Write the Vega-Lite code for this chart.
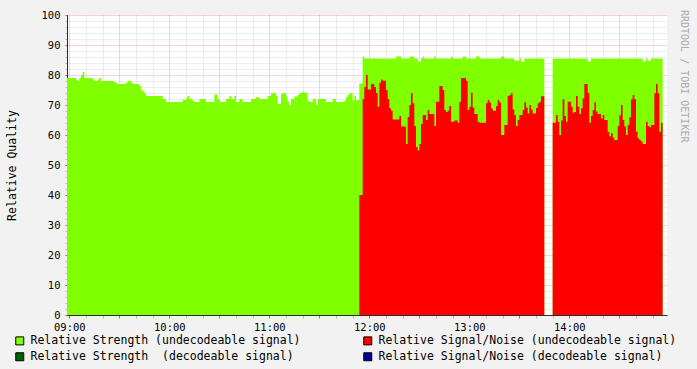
{
  "$schema": "https://vega.github.io/schema/vega-lite/v6.json",
  "width": 600,
  "height": 300,
  "autosize": {"type": "none"},
  "padding": {"left": 67, "top": 15, "right": 30, "bottom": 54},
  "background": "#F2F2F2",
  "title": {"text": "RRDTOOL / TOBI OETIKER", "orient": "right", "anchor": "start", "font": "DejaVu Sans Mono", "fontSize": 10, "fontWeight": "normal", "color": "#ABABAB", "offset": -8, "dy": -10},
  "config": {
    "view": {"stroke": null, "fill": "white"},
    "axis": {"labelOverlap": false, "labelFlush": false, "labelBound": false, "gridDash": [1, 1], "gridOpacity": 0.5, "zindex": 1, "domainColor": "#2C2C2C", "labelFont": "DejaVu Sans Mono", "labelFontSize": 10.5, "labelColor": "#000000"}
  },
  "data": {"values": [
    {"m":-2,"s":79},{"m":-1,"s":79},{"m":0,"s":79},{"m":1,"s":79},{"m":2,"s":79},{"m":3,"s":79},{"m":4,"s":78.5},{"m":5,"s":78},{"m":6,"s":79},{"m":7,"s":80},
    {"m":8,"s":81},{"m":9,"s":79},{"m":10,"s":79},{"m":11,"s":79},{"m":12,"s":79},{"m":13,"s":79},{"m":14,"s":78.5},{"m":15,"s":78},{"m":16,"s":78},{"m":17,"s":78.5},
    {"m":18,"s":79},{"m":19,"s":78},{"m":20,"s":78},{"m":21,"s":78},{"m":22,"s":78},{"m":23,"s":78},{"m":24,"s":78},{"m":25,"s":78},{"m":26,"s":78},{"m":27,"s":77.5},
    {"m":28,"s":77.5},{"m":29,"s":77},{"m":30,"s":77},{"m":31,"s":77},{"m":32,"s":77},{"m":33,"s":77},{"m":34,"s":77.5},{"m":35,"s":78},{"m":36,"s":78},{"m":37,"s":77.5},
    {"m":38,"s":77},{"m":39,"s":77},{"m":40,"s":77},{"m":41,"s":77},{"m":42,"s":76.3},{"m":43,"s":75},{"m":44,"s":74.6},{"m":45,"s":74},{"m":46,"s":73},{"m":47,"s":73},
    {"m":48,"s":73},{"m":49,"s":73},{"m":50,"s":73},{"m":51,"s":73},{"m":52,"s":73},{"m":53,"s":73},{"m":54,"s":73},{"m":55,"s":73},{"m":56,"s":72},{"m":57,"s":72},
    {"m":58,"s":71},{"m":59,"s":71},{"m":60,"s":71},{"m":61,"s":71},{"m":62,"s":71},{"m":63,"s":71},{"m":64,"s":71},{"m":65,"s":71},{"m":66,"s":71},{"m":67,"s":71},
    {"m":68,"s":71.7},{"m":69,"s":71.7},{"m":70,"s":72.3},{"m":71,"s":73},{"m":72,"s":72},{"m":73,"s":72},{"m":74,"s":71.3},{"m":75,"s":71},{"m":76,"s":71},{"m":77,"s":71},
    {"m":78,"s":72},{"m":79,"s":72},{"m":80,"s":72},{"m":81,"s":72},{"m":82,"s":71},{"m":83,"s":71},{"m":84,"s":71},{"m":85,"s":71},{"m":86,"s":71},{"m":87,"s":73.5},
    {"m":88,"s":73.5},{"m":89,"s":72},{"m":90,"s":71.2},{"m":91,"s":71},{"m":92,"s":71},{"m":93,"s":71},{"m":94,"s":72},{"m":95,"s":72},{"m":96,"s":73},{"m":97,"s":72},
    {"m":98,"s":72},{"m":99,"s":73},{"m":100,"s":71},{"m":101,"s":71},{"m":102,"s":72},{"m":103,"s":72},{"m":104,"s":71},{"m":105,"s":71},{"m":106,"s":71},{"m":107,"s":71},
    {"m":108,"s":71},{"m":109,"s":72},{"m":110,"s":72},{"m":111,"s":72},{"m":112,"s":72.6},{"m":113,"s":72.6},{"m":114,"s":72},{"m":115,"s":72},{"m":116,"s":72},{"m":117,"s":72},
    {"m":118,"s":72},{"m":119,"s":73},{"m":120,"s":73},{"m":121,"s":74},{"m":122,"s":74},{"m":123,"s":74},{"m":124,"s":73},{"m":125,"s":70.3},{"m":126,"s":70.3},{"m":127,"s":73.7},
    {"m":128,"s":74},{"m":129,"s":74},{"m":130,"s":72.8},{"m":131,"s":71.2},{"m":132,"s":70},{"m":133,"s":72},{"m":134,"s":72},{"m":135,"s":72.8},{"m":136,"s":72.8},{"m":137,"s":73.3},
    {"m":138,"s":74},{"m":139,"s":74},{"m":140,"s":74.4},{"m":141,"s":74.1},{"m":142,"s":74.1},{"m":143,"s":71.4},{"m":144,"s":71},{"m":145,"s":71},{"m":146,"s":72},{"m":147,"s":72},
    {"m":148,"s":70},{"m":149,"s":72},{"m":150,"s":72},{"m":151,"s":72},{"m":152,"s":72},{"m":153,"s":72},{"m":154,"s":71},{"m":155,"s":71},{"m":156,"s":71},{"m":157,"s":71},
    {"m":158,"s":72},{"m":159,"s":72},{"m":160,"s":71},{"m":161,"s":71},{"m":162,"s":71},{"m":163,"s":71},{"m":164,"s":71},{"m":165,"s":71.4},{"m":166,"s":72.6},{"m":167,"s":73.3},
    {"m":168,"s":73.9},{"m":169,"s":73.9},{"m":170,"s":71.4},{"m":171,"s":73},{"m":172,"s":71.7},{"m":173,"s":71.7},
    {"m":174,"s":77.2,"n":40},{"m":175,"s":77.2,"n":40},{"m":176,"s":86.2,"n":72},{"m":177,"s":85.5,"n":76},{"m":178,"s":85.5,"n":80},{"m":179,"s":85.5,"n":75.2},
    {"m":180,"s":85.5,"n":75.2},{"m":181,"s":85.5,"n":77},{"m":182,"s":85.5,"n":77},{"m":183,"s":85.5,"n":76},{"m":184,"s":85.5,"n":74},{"m":185,"s":85.5,"n":69.4},
    {"m":186,"s":85.5,"n":77.4},{"m":187,"s":85.5,"n":78.5},{"m":188,"s":85.5,"n":78.1},{"m":189,"s":85.5,"n":78.1},{"m":190,"s":85.5,"n":75},{"m":191,"s":85.5,"n":72},
    {"m":192,"s":85.5,"n":68.9},{"m":193,"s":85.5,"n":68.1},{"m":194,"s":85.5,"n":65.2},{"m":195,"s":85.5,"n":65.2},{"m":196,"s":86.2,"n":65.2},{"m":197,"s":86.2,"n":65.2},
    {"m":198,"s":86.2,"n":66.3},{"m":199,"s":85.5,"n":62.8},{"m":200,"s":85.5,"n":62.8},{"m":201,"s":85.5,"n":62.8},{"m":202,"s":85.5,"n":57},{"m":203,"s":85.5,"n":66},
    {"m":204,"s":86.2,"n":70},{"m":205,"s":86.2,"n":74},{"m":206,"s":86.2,"n":70.6},{"m":207,"s":85.5,"n":63},{"m":208,"s":85.5,"n":56},{"m":209,"s":84.5,"n":54.8},
    {"m":210,"s":84.5,"n":57},{"m":211,"s":85.5,"n":63.7},{"m":212,"s":86.2,"n":66.7},{"m":213,"s":85.5,"n":66.7},{"m":214,"s":85.5,"n":65},{"m":215,"s":85.5,"n":68.3},
    {"m":216,"s":85.5,"n":67},{"m":217,"s":85.5,"n":67},{"m":218,"s":85.5,"n":67},{"m":219,"s":86.2,"n":63},{"m":220,"s":85.5,"n":71.1},{"m":221,"s":85.5,"n":71.1},
    {"m":222,"s":85.5,"n":76.3},{"m":223,"s":85.5,"n":76.3},{"m":224,"s":85.5,"n":75},{"m":225,"s":85.5,"n":68.3},{"m":226,"s":85.5,"n":67.7},{"m":227,"s":85.5,"n":68.1},
    {"m":228,"s":85.5,"n":69.7},{"m":229,"s":86.2,"n":64.4},{"m":230,"s":85.5,"n":64.4},{"m":231,"s":85.5,"n":64.8},{"m":232,"s":85.5,"n":64.8},{"m":233,"s":85.5,"n":64.1},
    {"m":234,"s":85.5,"n":71},{"m":235,"s":85.5,"n":79},{"m":236,"s":86.2,"n":79},{"m":237,"s":86.2,"n":79},{"m":238,"s":85.5,"n":78.1},{"m":239,"s":85.5,"n":68.3},
    {"m":240,"s":85.5,"n":69.4},{"m":241,"s":85.5,"n":74.1},{"m":242,"s":85.5,"n":69.2},{"m":243,"s":85.5,"n":67},{"m":244,"s":86.2,"n":67},{"m":245,"s":86.2,"n":64.4},
    {"m":246,"s":85.5,"n":64.1},{"m":247,"s":85.5,"n":64.1},{"m":248,"s":85.5,"n":64.1},{"m":249,"s":85.5,"n":64.1},{"m":250,"s":85.5,"n":70.6},{"m":251,"s":85.5,"n":71.7},
    {"m":252,"s":85.5,"n":70.8},{"m":253,"s":85.5,"n":68.9},{"m":254,"s":85.5,"n":68.1},{"m":255,"s":85.5,"n":68.1},{"m":256,"s":85.5,"n":69.7},{"m":257,"s":85.5,"n":71.7},
    {"m":258,"s":85.5,"n":70.8},{"m":259,"s":86.2,"n":60},{"m":260,"s":86.2,"n":60},{"m":261,"s":85.5,"n":63.3},{"m":262,"s":85.5,"n":63.3},{"m":263,"s":85.5,"n":73},
    {"m":264,"s":85.5,"n":73.3},{"m":265,"s":85.5,"n":73.9},{"m":266,"s":85.5,"n":68.5},{"m":267,"s":84.8,"n":66.7},{"m":268,"s":84.8,"n":63},{"m":269,"s":84.8,"n":65},
    {"m":270,"s":85.5,"n":66.7},{"m":271,"s":84.3,"n":66.7},{"m":272,"s":84.3,"n":68.3},{"m":273,"s":85.5,"n":70.9},{"m":274,"s":85.5,"n":69.2},{"m":275,"s":85.5,"n":67.2},
    {"m":276,"s":85.5,"n":70},{"m":277,"s":85.5,"n":68.5},{"m":278,"s":85.5,"n":67.2},{"m":279,"s":85.5,"n":67.2},{"m":280,"s":85.5,"n":69},{"m":281,"s":85.5,"n":70.6},
    {"m":282,"s":85.5,"n":71.1},{"m":283,"s":85.5,"n":72.9},{"m":284,"s":85.5,"n":72.9},{"m":285,"s":85.5,"n":72.9},
    {"m":286,"s":null,"n":null},{"m":287,"s":null,"n":null},{"m":288,"s":null,"n":null},{"m":289,"s":null,"n":null},
    {"m":290,"s":85.5,"n":64.1},{"m":291,"s":85.5,"n":64.1},{"m":292,"s":85.5,"n":66.7},{"m":293,"s":85.5,"n":64.4},{"m":294,"s":85.5,"n":60},{"m":295,"s":85.5,"n":64.8},
    {"m":296,"s":85.5,"n":71.9},{"m":297,"s":85.5,"n":66.3},{"m":298,"s":85.5,"n":64.4},{"m":299,"s":85.5,"n":71.1},{"m":300,"s":85.5,"n":71.1},{"m":301,"s":85.5,"n":69.4},
    {"m":302,"s":85.5,"n":67.4},{"m":303,"s":85.5,"n":67.7},{"m":304,"s":85.5,"n":73},{"m":305,"s":85.5,"n":69.4},{"m":306,"s":85.5,"n":67},{"m":307,"s":85.5,"n":68.9},
    {"m":308,"s":85.5,"n":72.2},{"m":309,"s":85.5,"n":77},{"m":310,"s":85.5,"n":77},{"m":311,"s":84.5,"n":74.1},{"m":312,"s":84.5,"n":64.1},{"m":313,"s":85.5,"n":66.3},
    {"m":314,"s":85.5,"n":68.3},{"m":315,"s":85.5,"n":70.9},{"m":316,"s":85.5,"n":67.8},{"m":317,"s":85.5,"n":67},{"m":318,"s":85.5,"n":67},{"m":319,"s":85.5,"n":65.5},
    {"m":320,"s":85.5,"n":66.7},{"m":321,"s":85.5,"n":65},{"m":322,"s":85.5,"n":65},{"m":323,"s":85.5,"n":61.1},{"m":324,"s":85.5,"n":59.6},{"m":325,"s":85.5,"n":60.7},
    {"m":326,"s":85.5,"n":59.2},{"m":327,"s":85.5,"n":58.3},{"m":328,"s":85.5,"n":58.3},{"m":329,"s":85.5,"n":63},{"m":330,"s":85.5,"n":66.6},{"m":331,"s":85.5,"n":70},
    {"m":332,"s":85.5,"n":65},{"m":333,"s":85.5,"n":62.8},{"m":334,"s":85.5,"n":60},{"m":335,"s":85.5,"n":63.3},{"m":336,"s":85.5,"n":65.9},{"m":337,"s":85.5,"n":71.9},
    {"m":338,"s":85.5,"n":73.3},{"m":339,"s":85.5,"n":71.9},{"m":340,"s":85.5,"n":61.1},{"m":341,"s":85.5,"n":58.9},{"m":342,"s":85.5,"n":58.3},{"m":343,"s":85.5,"n":57.8},
    {"m":344,"s":84.5,"n":57},{"m":345,"s":84.5,"n":57},{"m":346,"s":85.5,"n":64.4},{"m":347,"s":84.8,"n":63},{"m":348,"s":84.8,"n":62.6},{"m":349,"s":85.5,"n":63.3},
    {"m":350,"s":85.5,"n":63.3},{"m":351,"s":85.5,"n":73.9},{"m":352,"s":85.5,"n":77},{"m":353,"s":85.5,"n":73.9},{"m":354,"s":85.5,"n":61.1},{"m":355,"s":85.5,"n":64.1},
    {"m":356,"s":85.5,"n":64.1}
  ]},
  "encoding": {
    "x": {
      "field": "m", "type": "quantitative",
      "scale": {"domain": [-1.4, 358.6], "nice": false, "zero": false},
      "axis": {
        "title": null,
        "values": [0,10,20,30,40,50,60,70,80,90,100,110,120,130,140,150,160,170,180,190,200,210,220,230,240,250,260,270,280,290,300,310,320,330,340,350],
        "labelExpr": "datum.value % 60 === 0 ? (datum.value < 60 ? '09:00' : (9 + datum.value / 60) + ':00') : ''",
        "labelPadding": 4,
        "grid": true,
        "gridColor": {"condition": {"test": "datum.value % 30 === 0", "value": "#E05050"}, "value": "#BABABA"},
        "tickColor": {"condition": {"test": "datum.value % 30 === 0", "value": "#E05050"}, "value": "#BABABA"},
        "tickSize": 3
      }
    }
  },
  "layer": [
    {
      "mark": {"type": "area", "interpolate": "step-after", "clip": true, "opacity": 1},
      "encoding": {
        "y": {
          "field": "s", "type": "quantitative",
          "scale": {"domain": [0, 100], "nice": false},
          "axis": {
            "title": "Relative Quality", "titleFont": "DejaVu Sans Mono", "titleFontSize": 11.5, "titleFontWeight": "normal", "titleColor": "#000000", "titlePadding": 24,
            "values": [0,2,4,6,8,10,12,14,16,18,20,22,24,26,28,30,32,34,36,38,40,42,44,46,48,50,52,54,56,58,60,62,64,66,68,70,72,74,76,78,80,82,84,86,88,90,92,94,96,98,100],
            "labelExpr": "datum.value % 10 === 0 ? datum.label : ''",
            "labelPadding": 5,
            "grid": true,
            "gridColor": {"condition": {"test": "datum.value % 10 === 0", "value": "#E05050"}, "value": "#BABABA"},
            "tickColor": {"condition": {"test": "datum.value % 10 === 0", "value": "#E05050"}, "value": "#BABABA"},
            "tickSize": 2
          }
        },
        "color": {
          "datum": "Relative Strength (undecodeable signal)", "type": "nominal",
          "scale": {
            "domain": ["Relative Strength (undecodeable signal)", "Relative Signal/Noise (undecodeable signal)", "Relative Strength\u00a0 (decodeable signal)", "Relative Signal/Noise (decodeable signal)"],
            "range": ["#80FF00", "#FF0000", "#006400", "#000099"]
          },
          "legend": {
            "title": null, "orient": "none", "legendX": -53, "legendY": 320, "direction": "horizontal", "columns": 2,
            "columnPadding": 60, "rowPadding": 3, "symbolType": "square", "symbolSize": 64,
            "symbolStrokeColor": "#000000", "symbolStrokeWidth": 1, "symbolOpacity": 1,
            "labelFont": "DejaVu Sans Mono", "labelFontSize": 11.5, "labelColor": "#000000", "labelOffset": 5, "labelLimit": 0
          }
        }
      }
    },
    {
      "mark": {"type": "area", "interpolate": "step-after", "clip": true, "opacity": 1},
      "encoding": {
        "y": {
          "field": "n", "type": "quantitative",
          "scale": {"domain": [0, 100], "nice": false},
          "axis": {
            "title": "Relative Quality", "titleFont": "DejaVu Sans Mono", "titleFontSize": 11.5, "titleFontWeight": "normal", "titleColor": "#000000", "titlePadding": 24,
            "values": [0,2,4,6,8,10,12,14,16,18,20,22,24,26,28,30,32,34,36,38,40,42,44,46,48,50,52,54,56,58,60,62,64,66,68,70,72,74,76,78,80,82,84,86,88,90,92,94,96,98,100],
            "labelExpr": "datum.value % 10 === 0 ? datum.label : ''",
            "labelPadding": 5,
            "grid": true,
            "gridColor": {"condition": {"test": "datum.value % 10 === 0", "value": "#E05050"}, "value": "#BABABA"},
            "tickColor": {"condition": {"test": "datum.value % 10 === 0", "value": "#E05050"}, "value": "#BABABA"},
            "tickSize": 2
          }
        },
        "color": {
          "datum": "Relative Signal/Noise (undecodeable signal)", "type": "nominal",
          "scale": {
            "domain": ["Relative Strength (undecodeable signal)", "Relative Signal/Noise (undecodeable signal)", "Relative Strength\u00a0 (decodeable signal)", "Relative Signal/Noise (decodeable signal)"],
            "range": ["#80FF00", "#FF0000", "#006400", "#000099"]
          }
        }
      }
    }
  ]
}
